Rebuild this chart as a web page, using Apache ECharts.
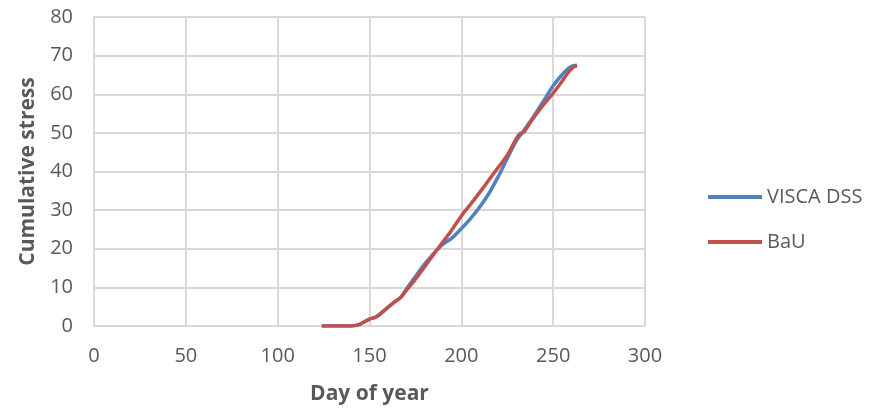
<!DOCTYPE html>
<html><head><meta charset="utf-8">
<script src="https://cdn.jsdelivr.net/npm/echarts@6/dist/echarts.min.js"></script>
<style>html,body{margin:0;padding:0;background:#fff;}#c{width:877px;height:411px;}</style>
</head><body><div id="c"></div>
<script>
const xTicks = [0, 50, 100, 150, 200, 250, 300];
const yTicks = [0, 10, 20, 30, 40, 50, 60, 70, 80];
const visDays = [124,130,135,140,142,145,148,150,153,156,160,163,167,170,175,180,185,190,195,200,205,210,215,220,225,230,233,237,242,246,250,254,258,261,263];
const visVals = [0,0,0,0,0.1,0.5,1.3,1.8,2.2,3.2,4.8,6.0,7.4,9.5,12.8,16.0,18.8,21.2,22.8,25.2,27.8,30.8,34.3,38.6,43.4,48.0,49.9,52.6,56.2,59.2,62.2,64.6,66.6,67.4,67.5];
const bauDays = [124,130,135,140,142,145,148,150,153,156,160,163,167,170,174,180,185,190,195,200,205,210,215,220,225,230,232,234,238,242,246,250,254,258,261,263];
const bauVals = [0,0,0,0,0.1,0.5,1.3,1.8,2.2,3.2,4.8,6.0,7.4,9.2,11.5,15.3,18.6,21.8,25.0,28.5,31.5,34.6,37.8,41.0,44.2,48.6,49.8,50.2,53.0,55.6,58.0,60.3,62.8,65.5,67.0,67.4];
const seriesNames = ['VISCA DSS', 'BaU'];

const pair = (xs, ys) => xs.map((x, i) => [x, ys[i]]);
const font = '"Open Sans", sans-serif';
const chart = echarts.init(document.getElementById('c'));
chart.setOption({
  animation: false,
  textStyle: { fontFamily: font },
  grid: { left: 94, right: 232, top: 17, bottom: 85 },
  xAxis: {
    type: 'value', min: xTicks[0], max: xTicks[xTicks.length - 1], interval: 50,
    name: 'Day of year', nameLocation: 'middle', nameGap: 58,
    nameTextStyle: { fontSize: 21, fontWeight: 'bold', color: '#595959', fontFamily: font },
    axisLine: { show: false }, axisTick: { show: false },
    axisLabel: { fontSize: 20, color: '#595959', margin: 20, fontFamily: font },
    splitLine: { show: true, lineStyle: { color: '#d9d9d9', width: 2 } }
  },
  yAxis: {
    type: 'value', min: yTicks[0], max: yTicks[yTicks.length - 1], interval: 10,
    name: 'Cumulative stress', nameLocation: 'middle', nameGap: 55,
    nameTextStyle: { fontSize: 21, fontWeight: 'bold', color: '#595959', fontFamily: font },
    axisLine: { show: true, lineStyle: { color: '#d9d9d9', width: 2 } }, axisTick: { show: false },
    axisLabel: { fontSize: 20, color: '#595959', margin: 21, fontFamily: font },
    splitLine: { show: true, lineStyle: { color: '#d9d9d9', width: 2 } }
  },
  legend: {
    orient: 'vertical', left: 703, top: 182, itemGap: 25,
    itemWidth: 54, itemHeight: 4,
    icon: 'rect',
    textStyle: { fontSize: 20, color: '#595959', fontFamily: font },
    data: seriesNames
  },
  series: [
    { name: seriesNames[0], type: 'line', data: pair(visDays, visVals), showSymbol: false, smooth: 0.3,
      lineStyle: { color: '#4f81bd', width: 3.5 }, itemStyle: { color: '#4f81bd' } },
    { name: seriesNames[1], type: 'line', data: pair(bauDays, bauVals), showSymbol: false, smooth: 0.3,
      lineStyle: { color: '#c0504d', width: 3.5 }, itemStyle: { color: '#c0504d' } }
  ]
});
</script></body></html>
